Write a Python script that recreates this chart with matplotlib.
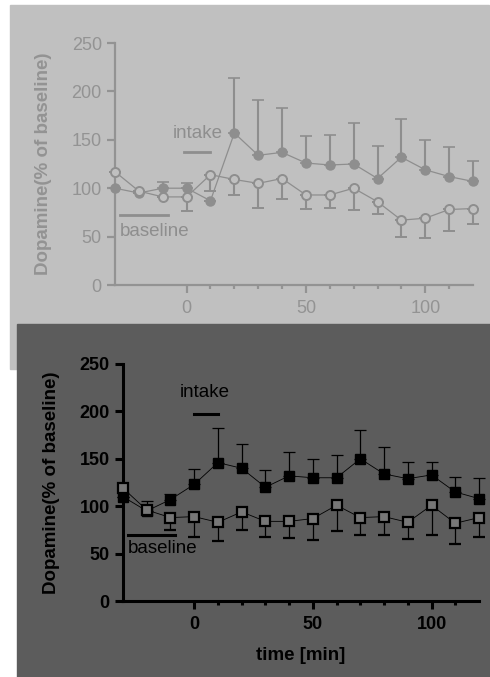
import matplotlib
matplotlib.use('Agg')
import matplotlib.pyplot as plt
from matplotlib.patches import Rectangle

plt.rcParams['font.family'] = ['Liberation Sans', 'DejaVu Sans']

time = [-30, -20, -10, 0, 10, 20, 30, 40, 50, 60, 70, 80, 90, 100, 110, 120]

# top panel (circles)
top_filled = [100, 95, 100, 100, 87, 157, 134, 137, 126, 124, 125, 110, 132, 119, 112, 107]
top_filled_err = [0, 0, 6, 5, 0, 57, 57, 46, 28, 31, 42, 34, 40, 31, 31, 21]
top_open = [117, 97, 91, 91, 114, 109, 105, 110, 93, 93, 100, 86, 67, 69, 78, 79]
top_open_err = [0, 0, 0, 15, 17, 16, 25, 21, 15, 13, 23, 13, 17, 20, 22, 16]

# bottom panel (squares)
bot_filled = [110, 95, 107, 123, 146, 140, 120, 132, 130, 130, 150, 134, 129, 133, 115, 108]
bot_filled_err = [0, 10, 6, 16, 36, 26, 18, 25, 20, 24, 30, 28, 18, 14, 16, 22]
bot_open = [119, 96, 88, 89, 83, 94, 84, 84, 87, 101, 88, 89, 83, 101, 82, 88]
bot_open_err = [0, 0, 13, 22, 20, 19, 17, 18, 23, 27, 18, 19, 18, 31, 22, 21]

xticks_major = [0, 50, 100]
xticks_minor = [10, 20, 30, 40, 60, 70, 80, 90, 110]
yticks = [0, 50, 100, 150, 200, 250]

fig = plt.figure(figsize=(4.9, 6.77), dpi=100)
fig.patch.set_facecolor('white')
W, H = 490, 677
fig.patches.append(Rectangle((10 / W, 1 - 369 / H), 479 / W, 364 / H,
                             transform=fig.transFigure, color='#c0c0c0', zorder=-10))
fig.patches.append(Rectangle((17 / W, 0), 473 / W, 1 - 324 / H,
                             transform=fig.transFigure, color='#5c5c5c', zorder=-9))


def setup(ax, col, lw, bold):
    ax.set_facecolor('none')
    ax.set_xlim(-30, 120)
    ax.set_ylim(0, 250)
    for s in ['top', 'right']:
        ax.spines[s].set_visible(False)
    for s in ['left', 'bottom']:
        ax.spines[s].set_color(col)
        ax.spines[s].set_linewidth(lw)
    ax.set_yticks(yticks)
    ax.set_xticks(xticks_major)
    ax.set_xticks(xticks_minor, minor=True)
    w = 'bold' if bold else 'normal'
    ax.tick_params(axis='both', which='major', colors=col, labelsize=13, width=lw, length=6)
    ax.tick_params(axis='x', which='major', pad=5)
    ax.tick_params(axis='x', which='minor', colors=col, width=lw, length=3)
    for lab in ax.get_xticklabels() + ax.get_yticklabels():
        lab.set_fontweight(w)
    ax.set_ylabel('Dopamine(% of baseline)', fontsize=13.5, fontweight='bold', color=col,
                  labelpad=14)


# top panel
gcol = '#8e8e8e'
ax1 = fig.add_axes([115 / W, 1 - 285 / H, 358 / W, 242 / H])
setup(ax1, '#939393', 1.6, False)
ax1.errorbar(time, top_filled, yerr=[[0] * len(time), top_filled_err], fmt='o', color=gcol,
             ms=6.5, lw=0.8, elinewidth=1.5, capsize=4, capthick=1.2, clip_on=False, zorder=3)
ax1.plot(time, top_filled, color=gcol, lw=0.9, clip_on=False, zorder=2)
ax1.errorbar(time, top_open, yerr=[top_open_err, [0] * len(time)], fmt='o', color=gcol,
             mfc='#c0c0c0', mec=gcol, mew=1.4, ms=6.5, elinewidth=1.5, capsize=4,
             capthick=1.2, clip_on=False, zorder=4)
ax1.plot(time, top_open, color=gcol, lw=0.9, clip_on=False, zorder=2)
ax1.plot([-1, 10], [137, 137], color=gcol, lw=2)
ax1.text(4.5, 157, 'intake', ha='center', va='center', fontsize=13.5, color=gcol)
ax1.plot([-28, -8], [72, 72], color=gcol, lw=2)
ax1.text(-28, 55, 'baseline', ha='left', va='center', fontsize=13.5, color=gcol)

# bottom panel
ax2 = fig.add_axes([123 / W, 1 - 601 / H, 356 / W, 237 / H])
setup(ax2, 'black', 2.2, True)
ax2.errorbar(time, bot_filled, yerr=[[0] * len(time), bot_filled_err], fmt='s', color='black',
             ms=7, elinewidth=0.9, capsize=4, capthick=0.9, clip_on=False, zorder=3)
ax2.plot(time, bot_filled, color='black', lw=0.6, clip_on=False, zorder=2)
ax2.errorbar(time, bot_open, yerr=[bot_open_err, [0] * len(time)], fmt='s', color='black',
             mfc='#777777', mec='black', mew=1.6, ms=7.5, elinewidth=0.9, capsize=4,
             capthick=0.9, clip_on=False, zorder=4)
ax2.plot(time, bot_open, color='black', lw=0.6, clip_on=False, zorder=2)
ax2.plot([0, 10], [197, 197], color='black', lw=2.2)
ax2.text(4.5, 220, 'intake', ha='center', va='center', fontsize=13.5, color='black')
ax2.plot([-28, -8], [70, 70], color='black', lw=2.2)
ax2.text(-28, 55, 'baseline', ha='left', va='center', fontsize=13.5, color='black')
ax2.set_xlabel('time [min]', fontsize=13.5, fontweight='bold', color='black', labelpad=10)

fig.savefig('out.png', dpi=100)
